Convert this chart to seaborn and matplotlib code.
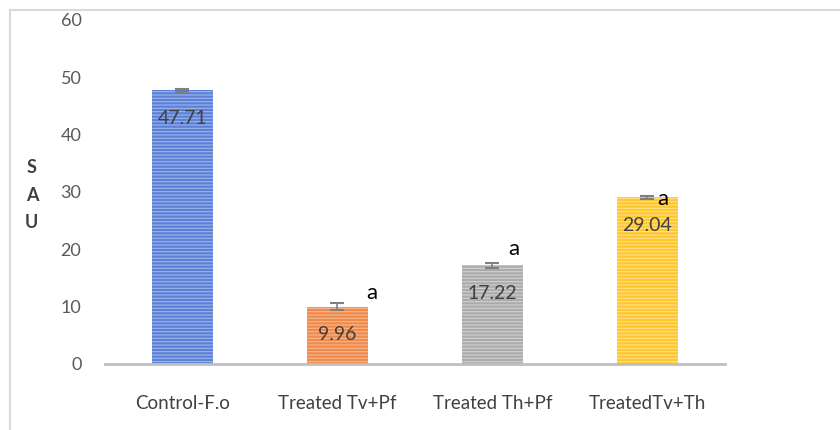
import pandas as pd
import matplotlib.pyplot as plt
import numpy as np
import seaborn as sns

# values
treatments = ["Control-F.o", "Treated Tv+Pf", "Treated Th+Pf", "TreatedTv+Th"]
sau_values = [47.71, 9.96, 17.22, 29.04]
sau_errors = [0.3, 0.6, 0.4, 0.2]
letters = ["", "a", "a", "a"]

colors = ["#5B80D6", "#F08A4B", "#ABABAB", "#FFC72C"]
stripe_colors = ["#9DB5EC", "#F7B88F", "#D2D2D2", "#FFE08A"]

data = pd.DataFrame({"treatment": treatments, "SAU": sau_values})

sns.set_style("white")
plt.rcParams["font.family"] = ["Lato", "DejaVu Sans"]
plt.rcParams["hatch.linewidth"] = 0.8

fig = plt.figure(figsize=(8.4, 4.3), dpi=100)
ax = fig.add_axes([0.125, 0.1535, 0.738, 0.80])

sns.barplot(x="treatment", y="SAU", data=data, hue="treatment", palette=colors,
            legend=False, width=0.39, ax=ax, saturation=1)

# striped fill like the excel pattern
for bar, sc in zip(ax.patches, stripe_colors):
    bar.set_hatch("-----")
    bar.set_edgecolor(sc)
    bar.set_linewidth(0)

x = np.arange(len(treatments))
ax.errorbar(x, sau_values, yerr=sau_errors, fmt="none", ecolor="#7F7F7F",
            elinewidth=1.2, capsize=5, capthick=1.5)

# value labels inside the bars
for i, v in enumerate(sau_values):
    ax.annotate(f"{v:.2f}", (i, v), xytext=(0, -20), textcoords="offset points",
                ha="center", va="center", fontsize=14, color="#404040")

# letters above the bars
letter_dx = [0, 0.22, 0.14, 0.10]
letter_dy = [0, 0, 3, -9]
for i, (v, e, lt) in enumerate(zip(sau_values, sau_errors, letters)):
    if lt:
        ax.annotate(lt, (i + letter_dx[i], v + e), xytext=(0, letter_dy[i]),
                    textcoords="offset points", ha="center", va="bottom",
                    fontsize=16, color="black")

ax.set_ylim(0, 60)
ax.set_xlim(-0.5, 3.5)
ax.set_yticks(range(0, 61, 10))
ax.tick_params(axis="y", labelsize=13, colors="#595959", length=0, pad=17)
ax.tick_params(axis="x", labelsize=13.5, colors="#404040", length=0, pad=22)
ax.set_xlabel("")
ax.set_ylabel("S\nA\nU", rotation=0, fontsize=13, fontweight="bold",
              color="#404040", linespacing=1.75, va="center")
ax.yaxis.set_label_coords(-0.118, 0.49)

for side in ["top", "right", "left"]:
    ax.spines[side].set_visible(False)
ax.spines["bottom"].set_color("#BFBFBF")
ax.spines["bottom"].set_linewidth(2)

# light chart border
fig.add_artist(plt.Line2D([0.012, 1.0], [0.977, 0.977], color="#D9D9D9", lw=1.5))
fig.add_artist(plt.Line2D([0.012, 0.012], [0.0, 0.977], color="#D9D9D9", lw=1.5))

plt.savefig("out.png", dpi=100)
